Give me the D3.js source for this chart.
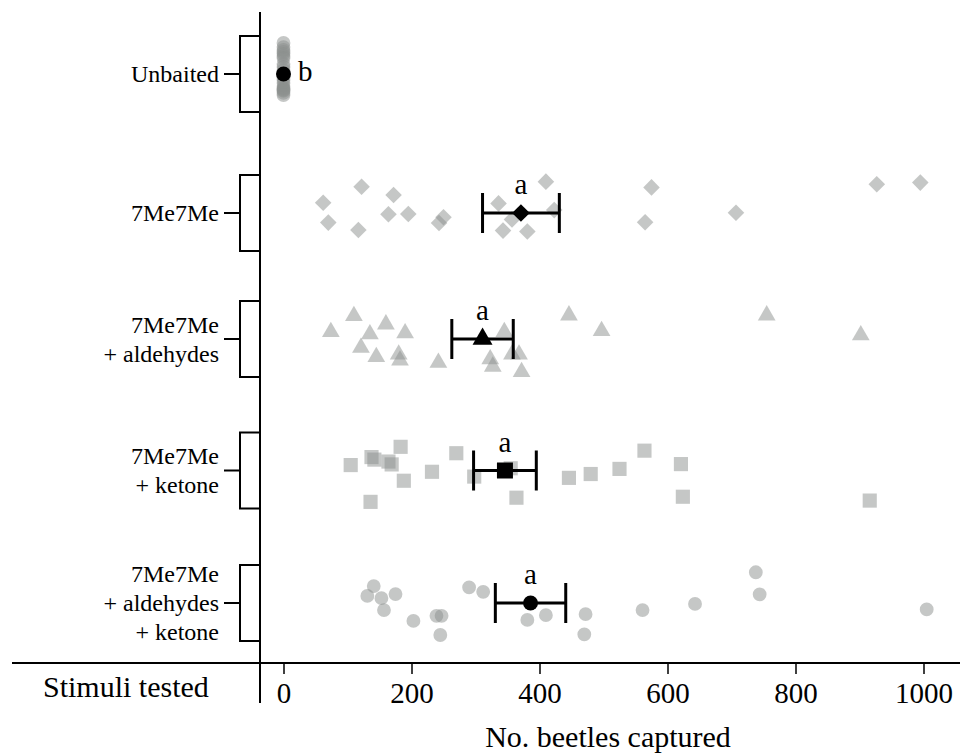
<!DOCTYPE html>
<html>
<head>
<meta charset="utf-8">
<script src="https://cdn.jsdelivr.net/npm/d3@7"></script>
<style>
  html, body { margin: 0; padding: 0; background: #fff; }
  svg { display: block; }
  text { font-family: "Liberation Serif", "Times New Roman", "DejaVu Serif", serif; fill: #000; }
</style>
</head>
<body>
<svg id="chart" width="960" height="754"></svg>
<script>
// ---------------- data ----------------
const categories = ["Unbaited", "7Me7Me", "7Me7Me + aldehydes", "7Me7Me + ketone", "7Me7Me + aldehydes + ketone"];
const categoryLines = [["Unbaited"], ["7Me7Me"], ["7Me7Me", "+ aldehydes"], ["7Me7Me", "+ ketone"], ["7Me7Me", "+ aldehydes", "+ ketone"]];
const symbols = ["circle", "diamond", "triangle", "square", "circle"];

const unbaitedValues = [0,0,0,0,0,0,0,0,0,0,0,0,0,0,0,0,0,0,0,0];
const unbaitedJitter = [-0.97,-0.84,-0.75,-0.69,-0.63,-0.56,-0.50,-0.31,-0.22,-0.12,0.12,0.19,0.28,0.38,0.44,0.47,0.50,0.53,0.59,0.66];

const me7Values = [62,70,122,117,172,164,195,250,243,336,357,343,381,410,423,575,565,707,927,995];
const me7Jitter = [-0.32,0.30,-0.82,0.53,-0.56,0.04,0.03,0.13,0.31,-0.30,0.20,0.55,0.58,-0.98,-0.09,-0.80,0.29,-0.01,-0.90,-0.95];

const aldValues = [74,110,135,160,190,121,145,180,182,242,345,323,327,357,368,372,446,497,755,902];
const aldJitter = [-0.22,-0.72,-0.15,-0.46,-0.18,0.27,0.56,0.48,0.67,0.74,-0.22,0.63,0.86,0.48,0.48,1.03,-0.74,-0.25,-0.74,-0.12];

const ketValues = [105,137.5,142,164,169,183,188,136,232,270,298,355,364,446,480,525,564,621,624,916];
const ketJitter = [-0.17,-0.42,-0.34,-0.28,-0.19,-0.74,0.32,0.98,0.04,-0.54,0.19,-0.07,0.85,0.23,0.11,-0.05,-0.62,-0.20,0.82,0.94];

const bothValues = [141,131,153,175,157,203,239,247,245,290,312,381,410,472,470,561,643,738,744,1005];
const bothJitter = [-0.53,-0.22,-0.15,-0.28,0.22,0.56,0.40,0.40,1.00,-0.49,-0.35,0.53,0.38,0.35,0.98,0.22,0.03,-0.96,-0.27,0.20];

const means = [0, 371, 311, 346, 386];
const stdErrors = [0, 60, 48, 49, 55];
const letters = ["b", "a", "a", "a", "a"];

const xTicks = [0, 200, 400, 600, 800, 1000];

const groupValues = [unbaitedValues, me7Values, aldValues, ketValues, bothValues];
const groupJitter = [unbaitedJitter, me7Jitter, aldJitter, ketJitter, bothJitter];

// ---------------- layout ----------------
const svg = d3.select("#chart");
const x = d3.scaleLinear().domain([0, 1000]).range([283.5, 923.5]);
const y = d3.scaleOrdinal().domain(categories).range([74, 213, 339, 470.5, 603]);
const jit = d3.scaleLinear().domain([-1, 1]).range([-32, 32]);

const gray = "#8b8f8d";
const symbolSize = {
  gray:  { circle: 150, diamond: 137, triangle: 136, square: 200 },
  black: { circle: 177, diamond: 156, triangle: 173, square: 256 }
};
function symPath(type, size) {
  if (type === "circle") return d3.symbol(d3.symbolCircle, size)();
  if (type === "triangle") return d3.symbol(d3.symbolTriangle, size)();
  return d3.symbol(d3.symbolSquare, size)();
}
function symRot(type) { return type === "diamond" ? " rotate(45)" : ""; }

// axes lines
svg.append("line").attr("x1", 12).attr("x2", 960).attr("y1", 663).attr("y2", 663)
  .attr("stroke", "#000").attr("stroke-width", 2);
svg.append("line").attr("x1", 260).attr("x2", 260).attr("y1", 12).attr("y2", 703)
  .attr("stroke", "#000").attr("stroke-width", 2);

// x axis ticks
const xAxis = svg.append("g").attr("transform", "translate(0,664)")
  .call(d3.axisBottom(x).tickValues(xTicks).tickSize(10).tickSizeOuter(0).tickFormat(d3.format("d")));
xAxis.select(".domain").remove();
xAxis.attr("font-family", null);
xAxis.selectAll(".tick line").attr("stroke", "#000").attr("stroke-width", 1.5);
xAxis.selectAll(".tick text").attr("y", 39).attr("dy", null)
  .style("font-size", "29px").attr("fill", "#000");

svg.append("text").attr("x", 43).attr("y", 697).attr("text-anchor", "start")
  .style("font-size", "30px").text("Stimuli tested");
svg.append("text").attr("x", 608).attr("y", 747).attr("text-anchor", "middle")
  .style("font-size", "30px").text("No. beetles captured");

// category labels + brackets
const half = 38;
categories.forEach((c, i) => {
  const cy = y(c);
  svg.append("path")
    .attr("d", `M260,${cy - half}H240V${cy + half}H260M224,${cy}H240`)
    .attr("fill", "none").attr("stroke", "#000").attr("stroke-width", 2);
  const lines = categoryLines[i];
  const t = svg.append("text").attr("text-anchor", "end").style("font-size", "24px");
  lines.forEach((ln, k) => {
    t.append("tspan").attr("x", 219)
      .attr("y", cy + 8 - (lines.length - 1) * 14.5 + k * 29)
      .text(ln);
  });
});

// gray individual points
categories.forEach((c, i) => {
  const type = symbols[i];
  const pts = groupValues[i].map((v, k) => ({ v, j: groupJitter[i][k] }));
  svg.append("g").selectAll("path").data(pts).join("path")
    .attr("d", symPath(type, symbolSize.gray[type]))
    .attr("transform", d => `translate(${x(d.v)},${y(c) + jit(d.j)})${symRot(type)}`)
    .attr("fill", gray).attr("fill-opacity", 0.5);
});

// error bars, means, letters
const capH = 20;
categories.forEach((c, i) => {
  const cy = y(c);
  const type = symbols[i];
  if (stdErrors[i] > 0) {
    const x0 = x(means[i] - stdErrors[i]), x1 = x(means[i] + stdErrors[i]);
    svg.append("path")
      .attr("d", `M${x0},${cy}H${x1}M${x0},${cy - capH}V${cy + capH}M${x1},${cy - capH}V${cy + capH}`)
      .attr("fill", "none").attr("stroke", "#000").attr("stroke-width", 3);
  }
  svg.append("path")
    .attr("d", symPath(type, symbolSize.black[type]))
    .attr("transform", `translate(${x(means[i])},${cy})${symRot(type)}`)
    .attr("fill", "#000");
  if (i === 0) {
    svg.append("text").attr("x", x(means[i]) + 14.5).attr("y", cy + 7)
      .attr("text-anchor", "start").style("font-size", "29px").text(letters[i]);
  } else {
    svg.append("text").attr("x", x(means[i])).attr("y", cy - 19)
      .attr("text-anchor", "middle").style("font-size", "29px").text(letters[i]);
  }
});
</script>
</body>
</html>
